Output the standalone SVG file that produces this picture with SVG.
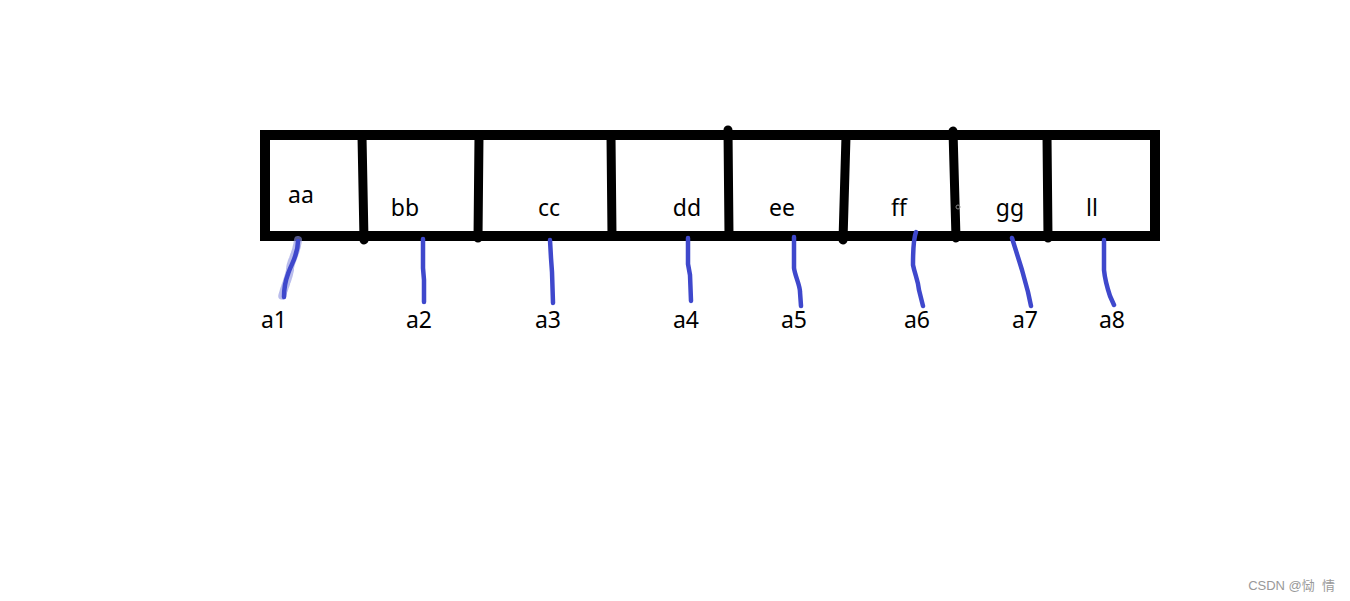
<svg xmlns="http://www.w3.org/2000/svg" width="1350" height="601" viewBox="0 0 1350 601">
<style>
.box{fill:none;stroke:#000;stroke-width:10}
.div{stroke:#000;stroke-width:9;stroke-linecap:round;fill:none}
.t{font-family:"Noto Sans","Open Sans",sans-serif;font-size:23px;fill:#000;text-anchor:middle}
.lnk{fill:none;stroke:#3f48cc;stroke-width:4.5;stroke-linecap:round;stroke-linejoin:round}
</style>
<rect width="1350" height="601" fill="#fff"/>
<g id="array">
<rect class="box" x="265" y="135" width="890" height="101"/>
</g>
<g id="cell-aa"><text class="t" x="301" y="203">aa</text></g>
<g id="cell-bb"><path class="div" d="M362 136 L364 240"/><text class="t" x="405" y="216">bb</text></g>
<g id="cell-cc"><path class="div" d="M479 136 L478 238"/><text class="t" x="549" y="216">cc</text></g>
<g id="cell-dd"><path class="div" d="M611 136 L612 236"/><text class="t" x="687" y="216">dd</text></g>
<g id="cell-ee"><path class="div" d="M728 130 L729 236"/><text class="t" x="782" y="216">ee</text></g>
<g id="cell-ff"><path class="div" d="M846 136 L843 240"/><text class="t" x="899" y="216">ff</text></g>
<g id="cell-gg"><path class="div" d="M953 131 L956 238"/><circle cx="958" cy="207" r="2" fill="none" stroke="#888" stroke-width="1"/><text class="t" x="1010" y="216">gg</text></g>
<g id="cell-ll"><path class="div" d="M1047 136 L1048 238"/><text class="t" x="1092" y="216">ll</text></g>
<g id="connectors">
<path d="M298 240 C296 255 290 262 290 270 C288 280 284 288 282 297" fill="none" stroke="#8a90e0" stroke-width="8" stroke-linecap="round" stroke-dasharray="3 2" opacity="0.6"/>
<path class="lnk" d="M298 241 C298 256 291 264 288 274 C285 282 284 290 284 297"/>
<path class="lnk" d="M423 239 L423 268 L424 280 L424 302"/>
<path class="lnk" d="M550 240 L551 258 L552 272 L553 303"/>
<path class="lnk" d="M688 238 L688 264 L690 275 L691 301"/>
<path class="lnk" d="M794 237 L794 268 C795 276 800 285 800 292 L801 306"/>
<path class="lnk" d="M916 232 C913 240 913 255 913 265 C915 275 918 280 919 290 L923 306"/>
<path class="lnk" d="M1012 238 L1022 270 L1028 292 L1031 306"/>
<path class="lnk" d="M1104 240 L1104 270 C1105 280 1108 290 1110 296 L1114 305"/>
</g>
<g id="labels">
<text class="t" x="274" y="328">a1</text>
<text class="t" x="419" y="328">a2</text>
<text class="t" x="548" y="328">a3</text>
<text class="t" x="686" y="328">a4</text>
<text class="t" x="794" y="328">a5</text>
<text class="t" x="917" y="328">a6</text>
<text class="t" x="1025" y="328">a7</text>
<text class="t" x="1112" y="328">a8</text>
</g>
<text x="1335" y="590" font-family="'Liberation Sans','Noto Sans CJK SC',sans-serif" font-size="13" fill="#999" text-anchor="end" xml:space="preserve">CSDN @恸  情</text>
</svg>
